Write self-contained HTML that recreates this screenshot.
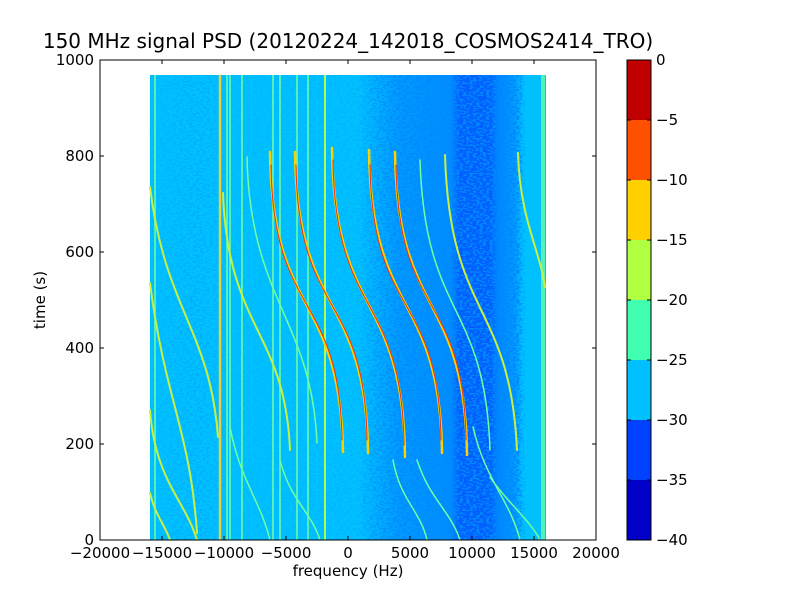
<!DOCTYPE html>
<html><head><meta charset="utf-8"><style>
body{margin:0;background:#fff;}
svg{display:block;font-family:"DejaVu Sans","Liberation Sans",sans-serif;}
</style></head><body>
<svg width="800" height="600" viewBox="0 0 800 600">
<defs>
<filter id="nz" x="0" y="0" width="100%" height="100%">
<feTurbulence type="fractalNoise" baseFrequency="0.3 0.6" numOctaves="1" seed="3" result="t"/>
<feColorMatrix type="matrix" values="0 0 0 0 0  0 0 0 0 0.25  0 0 0 0 1  6 0 0 0 -2.7" in="t" result="c"/>
<feComponentTransfer><feFuncA type="discrete" tableValues="0 1"/></feComponentTransfer>
</filter>
<linearGradient id="dg" x1="150" x2="546" y1="0" y2="0" gradientUnits="userSpaceOnUse">
<stop offset="0" stop-color="#fff" stop-opacity="0.1"/>
<stop offset="0.12" stop-color="#fff" stop-opacity="0.3"/>
<stop offset="0.2" stop-color="#fff" stop-opacity="0.1"/>
<stop offset="0.52" stop-color="#fff" stop-opacity="0.15"/>
<stop offset="0.62" stop-color="#fff" stop-opacity="0.8"/>
<stop offset="0.93" stop-color="#fff" stop-opacity="1"/>
<stop offset="0.95" stop-color="#fff" stop-opacity="0"/>
</linearGradient>
<linearGradient id="bg2" x1="150" x2="546" y1="0" y2="0" gradientUnits="userSpaceOnUse">
<stop offset="0.53" stop-color="#0040ff" stop-opacity="0"/>
<stop offset="0.63" stop-color="#0040ff" stop-opacity="0.3"/>
<stop offset="0.76" stop-color="#0040ff" stop-opacity="0.4"/>
<stop offset="0.78" stop-color="#0040ff" stop-opacity="0.75"/>
<stop offset="0.86" stop-color="#0040ff" stop-opacity="0.75"/>
<stop offset="0.88" stop-color="#0040ff" stop-opacity="0.45"/>
<stop offset="0.92" stop-color="#0040ff" stop-opacity="0.3"/>
<stop offset="0.94" stop-color="#0040ff" stop-opacity="0"/>
</linearGradient>
<mask id="dm"><rect x="150" y="75" width="396" height="465" fill="url(#dg)"/></mask>
</defs>
<text x="348" y="48" font-size="20" text-anchor="middle">150 MHz signal PSD (20120224_142018_COSMOS2414_TRO)</text>
<rect x="150" y="75" width="396" height="465" fill="#00c0ff"/>
<rect x="150" y="75" width="396" height="465" fill="url(#bg2)"/>
<g mask="url(#dm)"><rect x="150" y="75" width="396" height="465" fill="#0040ff" filter="url(#nz)"/></g>
<g fill="none" stroke-width="2" stroke-linecap="round">
<g stroke="#70ffa0" stroke-width="1.5" stroke-linecap="butt">
<line x1="155" y1="75" x2="155" y2="540"/><line x1="227" y1="75" x2="227" y2="540"/>
<line x1="230" y1="75" x2="230" y2="540"/><line x1="242" y1="75" x2="242" y2="540"/>
<line x1="273" y1="75" x2="273" y2="540"/><line x1="280" y1="75" x2="280" y2="540"/>
<line x1="297" y1="75" x2="297" y2="540"/><line x1="308" y1="75" x2="308" y2="540"/>
<line x1="542" y1="75" x2="542" y2="540"/><line x1="544" y1="75" x2="544" y2="540"/>
</g>
<line x1="220" y1="75" x2="220" y2="540" stroke="#e8d040" stroke-width="2.5" stroke-linecap="butt"/>
<line x1="325" y1="75" x2="325" y2="540" stroke="#b0ff50" stroke-width="2" stroke-linecap="butt"/>
<g stroke="#c8f040">
<path d="M150 187 C165 310 210 330 218 437"/>
<path d="M150 283 C165 400 190 430 197 533"/>
<path d="M150 410 C155 480 185 500 197 540"/>
<path d="M150 493 C155 515 165 525 170 540"/>
<path d="M223 193 C228 330 285 330 290 450"/>
<path d="M518 153 C520 220 540 250 545 287"/>
<path d="M445 155 C450 320 510 300 517 450"/>
</g>
<g stroke="#70ffa0" stroke-width="1.5">
<path d="M247 157 C250 300 312 320 317 443"/>
<path d="M230 427 C240 480 260 500 270 540"/>
<path d="M280 460 C290 500 310 510 320 540"/>
<path d="M420 160 C425 320 485 300 490 450"/>
<path d="M393 460 C400 500 420 510 427 540"/>
<path d="M417 460 C430 500 450 510 460 540"/>
<path d="M473 427 C485 480 510 500 520 540"/>
<path d="M490 477 C505 500 530 520 540 540"/>
</g>
<g stroke="#ffd000" stroke-width="2.5">
<path d="M270 152 C272 320 340 290 343 452"/>
<path d="M295 152 C297 320 366 290 368 453"/>
<path d="M332 148 C334 320 403 290 405 457"/>
<path d="M369 150 C371 320 440 290 442 453"/>
<path d="M395 152 C397 320 465 290 467 455"/>
</g>
<g stroke="#e83010" stroke-width="1">
<path d="M271 165 C273 320 340 290 342 440"/>
<path d="M296 165 C298 320 365 290 367 440"/>
<path d="M333 160 C335 320 402 290 404 445"/>
<path d="M370 165 C372 320 439 290 441 440"/>
<path d="M396 165 C398 320 464 290 466 440"/>
</g>
</g>
<rect x="100" y="60" width="496" height="480" fill="none" stroke="#000" stroke-width="1"/>
<g stroke="#000" stroke-width="1">
<path d="M162 540v-4M224 540v-4M286 540v-4M348 540v-4M410 540v-4M472 540v-4M534 540v-4M162 60v4M224 60v4M286 60v4M348 60v4M410 60v4M472 60v4M534 60v4"/>
<path d="M100 444h4M100 348h4M100 252h4M100 156h4M596 444h-4M596 348h-4M596 252h-4M596 156h-4"/>
</g>
<g font-size="15" text-anchor="middle">
<text x="100" y="558">−20000</text><text x="162" y="558">−15000</text><text x="224" y="558">−10000</text>
<text x="286" y="558">−5000</text><text x="348" y="558">0</text><text x="410" y="558">5000</text>
<text x="472" y="558">10000</text><text x="534" y="558">15000</text><text x="596" y="558">20000</text>
</g>
<g font-size="15" text-anchor="end">
<text x="94" y="545">0</text><text x="94" y="449">200</text><text x="94" y="353">400</text>
<text x="94" y="257">600</text><text x="94" y="161">800</text><text x="94" y="65">1000</text>
</g>
<text x="348" y="576" font-size="15" text-anchor="middle">frequency (Hz)</text>
<text x="45" y="300" font-size="15" text-anchor="middle" transform="rotate(-90 45 300)">time (s)</text>
<g>
<rect x="627" y="60" width="24" height="60" fill="#c00000"/>
<rect x="627" y="120" width="24" height="60" fill="#ff5000"/>
<rect x="627" y="180" width="24" height="60" fill="#ffd000"/>
<rect x="627" y="240" width="24" height="60" fill="#b0ff40"/>
<rect x="627" y="300" width="24" height="60" fill="#40ffb0"/>
<rect x="627" y="360" width="24" height="60" fill="#00c0ff"/>
<rect x="627" y="420" width="24" height="60" fill="#0040ff"/>
<rect x="627" y="480" width="24" height="60" fill="#0000c8"/>
<rect x="627" y="60" width="24" height="480" fill="none" stroke="#000"/>
<path d="M651 120h-4M651 180h-4M651 240h-4M651 300h-4M651 360h-4M651 420h-4M651 480h-4M627 120h4M627 180h4M627 240h4M627 300h4M627 360h4M627 420h4M627 480h4" stroke="#000"/>
</g>
<g font-size="15">
<text x="656" y="65">0</text><text x="656" y="125">−5</text><text x="656" y="185">−10</text>
<text x="656" y="245">−15</text><text x="656" y="305">−20</text><text x="656" y="365">−25</text>
<text x="656" y="425">−30</text><text x="656" y="485">−35</text><text x="656" y="545">−40</text>
</g>
</svg>
</body></html>
